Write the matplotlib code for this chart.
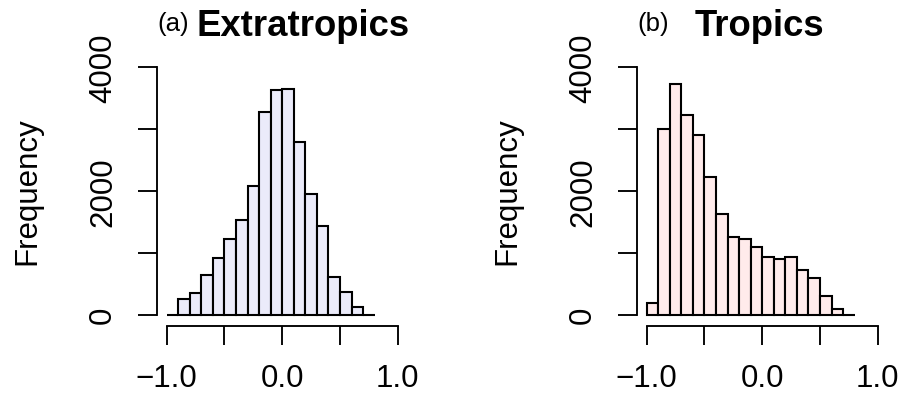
import numpy as np
import matplotlib
matplotlib.use("Agg")
import matplotlib.pyplot as plt

plt.rcParams['font.family'] = ['Liberation Sans', 'DejaVu Sans']

# ---- data ----
bin_edges = [-1.0, -0.9, -0.8, -0.7, -0.6, -0.5, -0.4, -0.3, -0.2, -0.1,
             0.0, 0.1, 0.2, 0.3, 0.4, 0.5, 0.6, 0.7, 0.8]
extratropics_counts = [0, 260, 355, 645, 914, 1220, 1537, 2086, 3285, 3640,
                       3656, 2796, 1946, 1435, 618, 376, 123, 0]
tropics_counts = [198, 3003, 3726, 3228, 2906, 2235, 1624, 1265, 1222, 1093,
                  928, 896, 928, 724, 600, 310, 92, 0]
x_ticks = [-1.0, -0.5, 0.0, 0.5, 1.0]
x_ticklabels = ["\u22121.0", "", "0.0", "", "1.0"]
y_ticks = [0, 1000, 2000, 3000, 4000]
y_ticklabels = ["0", "", "2000", "", "4000"]
panel_labels = ["(a)", "(b)"]
panel_titles = ["Extratropics", "Tropics"]
fill_colors = ["#EBEBFA", "#FFEBEB"]
series = [extratropics_counts, tropics_counts]

W, H = 901, 402
fig = plt.figure(figsize=(W / 100, H / 100), dpi=100)

lw = 1.5
fs = 22.5

edges = np.array(bin_edges)
widths = np.diff(edges)

for i in range(2):
    off = 480 * i
    # pixel geometry (from top)
    ax_left, ax_right = 157 + off, 400 + off
    ax_top, ax_bottom = 60, 326.7
    ax = fig.add_axes([ax_left / W, 1 - ax_bottom / H,
                       (ax_right - ax_left) / W, (ax_bottom - ax_top) / H])
    pxu = 115.5
    x0px = 166.7 + off
    xl = -1 + (ax_left - x0px) / pxu
    xr = -1 + (ax_right - x0px) / pxu
    ppc = 247.5 / 4000
    y0px = 315.8
    yb = -(ax_bottom - y0px) / ppc
    yt = (y0px - ax_top) / ppc
    ax.set_xlim(xl, xr)
    ax.set_ylim(yb, yt)

    ax.bar(edges[:-1], series[i], width=widths, align='edge',
           color=fill_colors[i], edgecolor='black', linewidth=lw)

    for s in ['top', 'right']:
        ax.spines[s].set_visible(False)
    ax.spines['left'].set_bounds(0, 4000)
    ax.spines['bottom'].set_bounds(-1, 1)
    ax.spines['left'].set_linewidth(lw * 0.9)
    ax.spines['bottom'].set_linewidth(lw * 0.9)

    ax.set_xticks(x_ticks)
    ax.set_xticklabels(x_ticklabels, fontsize=fs)
    ax.set_yticks(y_ticks)
    ax.set_yticklabels(y_ticklabels, fontsize=fs, rotation=90,
                       ha='center', va='center')
    ax.tick_params(axis='both', direction='out', length=13.7, width=lw * 0.9)
    ax.tick_params(axis='x', pad=13)
    ax.tick_params(axis='y', pad=25)
    ax.patch.set_visible(False)

    fig.text((27 + off) / W, 1 - 191 / H, "Frequency", rotation=90,
             ha='center', va='center', fontsize=fs)

title_pos = [(173, 303.5), (653, 759.5)]
for i in range(2):
    lx, tx = title_pos[i]
    fig.text(lx / W, 1 - 31.5 / H, panel_labels[i], ha='center',
             va='baseline', fontsize=18.5)
    fig.text(tx / W, 1 - 36 / H, panel_titles[i], ha='center',
             va='baseline', fontsize=26.3, fontweight='bold')

fig.savefig("out.png", dpi=100)
